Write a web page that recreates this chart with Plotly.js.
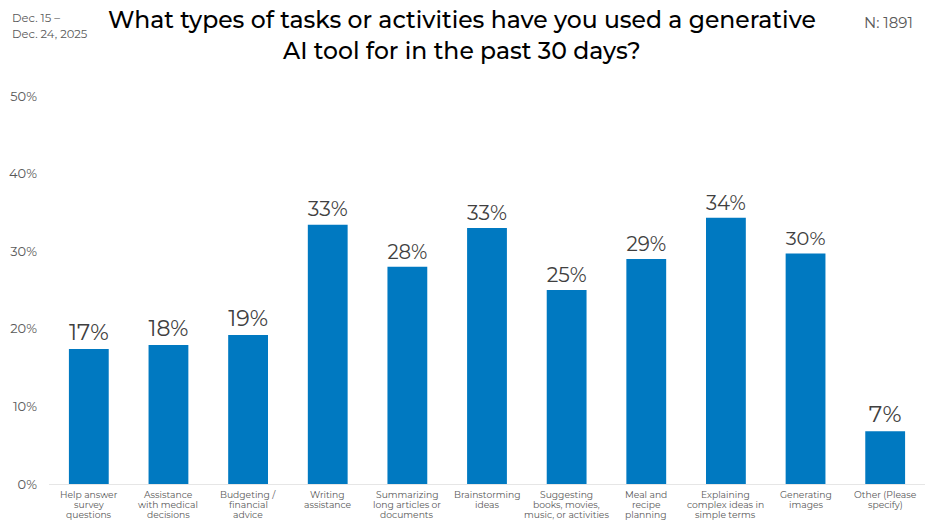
<!DOCTYPE html>
<html>
<head>
<meta charset="utf-8">
<script src="https://cdn.plot.ly/plotly-3.0.1.min.js"></script>
<style>html,body{margin:0;padding:0;background:#fff;}#chart{width:929px;height:525px;}</style>
</head>
<body>
<div id="chart"></div>
<script>
const categories = [
  "Help answer<br>survey<br>questions",
  "Assistance<br>with medical<br>decisions",
  "Budgeting /<br>financial<br>advice",
  "Writing<br>assistance",
  "Summarizing<br>long articles or<br>documents",
  "Brainstorming<br>ideas",
  "Suggesting<br>books, movies,<br>music, or activities",
  "Meal and<br>recipe<br>planning",
  "Explaining<br>complex ideas in<br>simple terms",
  "Generating<br>images",
  "Other (Please<br>specify)"
];
const values = [17.4, 17.9, 19.2, 33.4, 28.0, 33.0, 25.0, 29.0, 34.3, 29.7, 6.8];
const valueLabels = ["17%","18%","19%","33%","28%","33%","25%","29%","34%","30%","7%"];
const yTickVals = [0, 10, 20, 30, 40, 50];
const yTickText = ["0%","10%","20%","30%","40%","50%"];
const titleText = "What types of tasks or activities have you used a generative<br>AI tool for in the past 30 days?";
const dateLines = ["Dec. 15 –", "Dec. 24, 2025"];
const nText = "N: 1891";

const font = "Montserrat, 'Open Sans', 'DejaVu Sans', sans-serif";
const grey = "#595959";

const trace = {
  type: "bar",
  x: categories,
  y: values,
  text: valueLabels,
  textposition: "outside",
  cliponaxis: false,
  textfont: {family: font, size: 23, color: "#404040"},
  marker: {color: "#0079C1"},
  hoverinfo: "none"
};

const annotations = [];
// category labels, one annotation per line for tight line spacing
categories.forEach(function (c) {
  c.split("<br>").forEach(function (line, i) {
    annotations.push({
      text: line, x: c, y: 0, xref: "x", yref: "y",
      xanchor: "center", yanchor: "middle", yshift: -10 - i * 10.2,
      showarrow: false, font: {family: font, size: 9.2, color: grey}
    });
  });
});
annotations.push({
  text: titleText, xref: "paper", yref: "paper", x: 0.471, y: 1,
  xanchor: "center", yanchor: "middle", yshift: 61, borderpad: 0,
  showarrow: false, align: "center",
  font: {family: font, size: 23.5, color: "#000", weight: 500}
});
dateLines.forEach(function (t, i) {
  annotations.push({
    text: t, xref: "paper", yref: "paper", x: 0, y: 1,
    xanchor: "left", yanchor: "middle", xshift: -39, yshift: 78 - i * 16,
    showarrow: false, font: {family: font, size: 11.5, color: grey}
  });
});
annotations.push({
  text: nText, xref: "paper", yref: "paper", x: 1, y: 1,
  xanchor: "right", yanchor: "middle", xshift: -10, yshift: 74,
  showarrow: false, font: {family: font, size: 15, color: grey}
});

const layout = {
  width: 929, height: 525,
  margin: {l: 49, r: 4, t: 96, b: 41},
  paper_bgcolor: "#fff", plot_bgcolor: "#fff",
  bargap: 0.5,
  showlegend: false,
  font: {family: font},
  xaxis: {
    automargin: false, showticklabels: false,
    showline: true, linecolor: "#e6e6e6", linewidth: 1,
    ticks: "", showgrid: false
  },
  yaxis: {
    automargin: false,
    range: [0, 50],
    tickvals: yTickVals, ticktext: yTickText,
    tickfont: {family: font, size: 13, color: grey},
    showgrid: false, zeroline: false, showline: false,
    ticks: "", ticklabelstandoff: 11
  },
  annotations: annotations
};

Plotly.newPlot("chart", [trace], layout, {displayModeBar: false, staticPlot: true});
</script>
</body>
</html>
